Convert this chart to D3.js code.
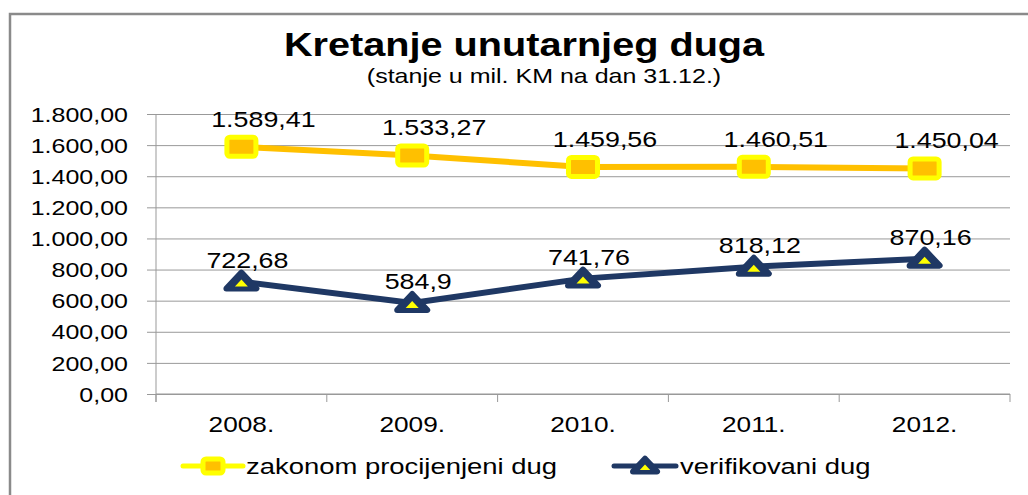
<!DOCTYPE html>
<html>
<head>
<meta charset="utf-8">
<script src="https://cdn.jsdelivr.net/npm/d3@7"></script>
<style>
  html, body { margin: 0; padding: 0; background: #fff; }
  svg { display: block; font-family: "Liberation Sans", Arial, sans-serif; }
</style>
</head>
<body>
<svg id="chart"></svg>
<script>
'use strict';

const years = ['2008.', '2009.', '2010.', '2011.', '2012.'];
const estimatedDebt = [1589.41, 1533.27, 1459.56, 1460.51, 1450.04];
const verifiedDebt = [722.68, 584.9, 741.76, 818.12, 870.16];
const yTicks = [0, 200, 400, 600, 800, 1000, 1200, 1400, 1600, 1800];
const seriesNames = ['zakonom procijenjeni dug', 'verifikovani dug'];
const titleText = 'Kretanje unutarnjeg duga';
const subtitleText = '(stanje u mil. KM na dan 31.12.)';

const width = 1028;
const height = 495;
const plot = { left: 156, right: 1010, top: 114, bottom: 394 };
// text in the original is drawn wide, so every label gets a horizontal stretch
const stretch = 1.22;

const yellowLine = '#FFC000';
const yellowBright = '#FFFF00';
const navy = '#1F3864';
const gridColor = '#999999';

const locale = d3.formatLocale({ decimal: ',', thousands: '.', grouping: [3], currency: ['', ''] });
const tickFormat = locale.format(',.2f');
const labelFormat = locale.format(',.2~f');

const svg = d3.select('#chart').attr('width', width).attr('height', height);

function addText(parent, x, y, text, size, anchor, weight) {
    return parent.append('text')
        .attr('transform', `translate(${x},${y}) scale(${stretch},1)`)
        .attr('text-anchor', anchor || 'middle')
        .attr('font-size', size)
        .attr('font-weight', weight || 'normal')
        .attr('fill', '#000')
        .text(text);
}

// outer chart border (runs off the right and bottom edge)
svg.append('rect')
    .attr('x', 10).attr('y', 14)
    .attr('width', width + 20).attr('height', height + 20)
    .attr('fill', 'none')
    .attr('stroke', '#8a8a8a')
    .attr('stroke-width', 2.5);

addText(svg, 524, 56, titleText, 32.5, 'middle', 'bold');
addText(svg, 544, 83, subtitleText, 20.5);

const x = d3.scaleBand().domain(years).range([plot.left, plot.right]).padding(0);
const y = d3.scaleLinear().domain([0, 1800]).range([plot.bottom, plot.top]);
const cx = d => x(d) + x.bandwidth() / 2;

// gridlines
svg.append('g')
    .attr('transform', `translate(${plot.left},0)`)
    .call(d3.axisLeft(y).tickValues(yTicks).tickSize(-(plot.right - plot.left)).tickFormat(''))
    .call(g => g.select('.domain').remove())
    .call(g => g.selectAll('.tick line').attr('stroke', gridColor));

// y axis with outside tick marks and labels
svg.append('g')
    .attr('transform', `translate(${plot.left},0)`)
    .call(d3.axisLeft(y).tickValues(yTicks).tickSize(9).tickFormat(tickFormat).tickSizeOuter(0))
    .call(g => g.select('.domain').attr('stroke', gridColor).attr('d', `M0,${plot.top}V${plot.bottom + 8}`))
    .call(g => g.selectAll('.tick line').attr('stroke', gridColor))
    .call(g => g.selectAll('.tick text')
        .attr('x', -28 / stretch)
        .attr('dy', '0.35em')
        .attr('transform', `scale(${stretch},1)`)
        .attr('font-size', 20.5)
        .attr('font-family', '"Liberation Sans", Arial, sans-serif')
        .attr('fill', '#000'));

// x axis: line, boundary ticks between categories, labels
const xAxis = svg.append('g').attr('transform', `translate(0,${plot.bottom})`);
xAxis.append('line')
    .attr('x1', plot.left).attr('x2', plot.right)
    .attr('stroke', gridColor);
xAxis.selectAll('line.bound')
    .data(years.concat(['end']))
    .join('line')
    .attr('class', 'bound')
    .attr('x1', (d, i) => plot.left + i * x.step())
    .attr('x2', (d, i) => plot.left + i * x.step())
    .attr('y1', 0).attr('y2', 8)
    .attr('stroke', gridColor);
years.forEach(yr => addText(svg, cx(yr), 432, yr, 21.5));

function drawSquare(g, px, py, w, h) {
    g.append('rect')
        .attr('x', px - w / 2).attr('y', py - h / 2)
        .attr('width', w).attr('height', h)
        .attr('rx', 3)
        .attr('fill', yellowLine)
        .attr('stroke', yellowBright)
        .attr('stroke-width', 5);
}

function drawTriangle(g, px, py, s) {
    g.append('path')
        .attr('d', `M${px},${py - 9 * s}L${px + 15 * s},${py + 7 * s}L${px - 15 * s},${py + 7 * s}Z`)
        .attr('fill', navy)
        .attr('stroke', navy)
        .attr('stroke-width', 6)
        .attr('stroke-linejoin', 'round');
    g.append('path')
        .attr('d', `M${px},${py - 2 * s}L${px + 6.5 * s},${py + 5 * s}L${px - 6.5 * s},${py + 5 * s}Z`)
        .attr('fill', yellowBright);
}

const line = d3.line().x((d, i) => cx(years[i])).y(d => y(d));

// estimated debt series
svg.append('path')
    .datum(estimatedDebt)
    .attr('d', line)
    .attr('fill', 'none')
    .attr('stroke', yellowLine)
    .attr('stroke-width', 6);
const est = svg.append('g');
estimatedDebt.forEach((v, i) => drawSquare(est, cx(years[i]), y(v), 29, 19));
estimatedDebt.forEach((v, i) => addText(svg, cx(years[i]) + 22, y(v) - 20, labelFormat(v), 22));

// verified debt series
svg.append('path')
    .datum(verifiedDebt)
    .attr('d', line)
    .attr('fill', 'none')
    .attr('stroke', navy)
    .attr('stroke-width', 6);
const ver = svg.append('g');
verifiedDebt.forEach((v, i) => drawTriangle(ver, cx(years[i]), y(v), 1));
verifiedDebt.forEach((v, i) => addText(svg, cx(years[i]) + 6, y(v) - 14, labelFormat(v), 22));

// legend
const legendY = 466;
const legend = svg.append('g');
legend.append('line')
    .attr('x1', 183).attr('x2', 243).attr('y1', legendY).attr('y2', legendY)
    .attr('stroke', yellowBright).attr('stroke-width', 5).attr('stroke-linecap', 'round');
drawSquare(legend, 213, legendY, 20, 14);
addText(legend, 246, legendY + 8, seriesNames[0], 22.5, 'start');

legend.append('line')
    .attr('x1', 614).attr('x2', 676).attr('y1', legendY).attr('y2', legendY)
    .attr('stroke', navy).attr('stroke-width', 5).attr('stroke-linecap', 'round');
drawTriangle(legend, 645, legendY, 0.8);
addText(legend, 680, legendY + 8, seriesNames[1], 22.5, 'start');
</script>
</body>
</html>
